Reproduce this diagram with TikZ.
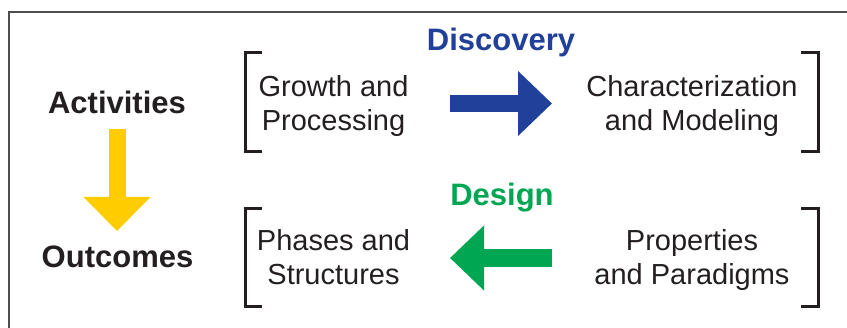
\documentclass[tikz,border=0pt]{standalone}
\usepackage{fontspec}
\setmainfont{Liberation Sans}
\usetikzlibrary{arrows.meta}
\definecolor{dblue}{RGB}{33,64,154}
\definecolor{dgreen}{RGB}{0,166,81}
\definecolor{dyellow}{RGB}{255,204,0}
\definecolor{ink}{RGB}{35,31,32}
\begin{document}
\begin{tikzpicture}[x=1pt,y=-1pt,
  lbl/.style={inner sep=0pt, anchor=base, text=ink, font=\fontsize{29}{33.5}\selectfont},
  head/.style={inner sep=0pt, anchor=base, font=\fontsize{31}{34}\selectfont\bfseries},
  brk/.style={draw=ink, line width=3pt, miter limit=10},
  fat/.style={line width=#1, -{Triangle[length=34pt,width=63pt]}},
  fat/.default=17pt]
\useasboundingbox (0,0) rectangle (847,328);
\draw[ink!80, line width=1.2pt] (9,340) -- (9,12) -- (860,12);
% headings
\node[head, text=ink] (act) at (117,114) {Activities};
\node[head, text=ink] (out) at (117.5,268) {Outcomes};
\node[head, text=dblue] (disc) at (501,51) {Discovery};
\node[head, text=dgreen] (des) at (502,206) {Design};
% boxes
\node[lbl] (gp) at (333.5,97) {\begin{tabular}[t]{@{}c@{}}Growth and\\Processing\end{tabular}};
\node[lbl] (cm) at (692,97) {\begin{tabular}[t]{@{}c@{}}Characterization\\and Modeling\end{tabular}};
\node[lbl] (ps) at (333.5,251) {\begin{tabular}[t]{@{}c@{}}Phases and\\Structures\end{tabular}};
\node[lbl] (pp) at (692,251) {\begin{tabular}[t]{@{}c@{}}Properties\\and Paradigms\end{tabular}};
% brackets
\draw[brk] (262,53) -- (245,53) -- (245,152) -- (262,152);
\draw[brk] (801,53) -- (818,53) -- (818,152) -- (801,152);
\draw[brk] (262,209) -- (245,209) -- (245,307) -- (262,307);
\draw[brk] (801,209) -- (818,209) -- (818,307) -- (801,307);
% arrows
\coordinate (b1) at (450,103.5);
\coordinate (b2) at (552,103.5);
\coordinate (g1) at (552,258);
\coordinate (g2) at (450,258);
\coordinate (y1) at (117,129);
\coordinate (y2) at (117,231);
\draw[fat, dblue] (b1) -- (b2);
\draw[fat=18pt, dgreen] (g1) -- (g2);
\draw[fat, dyellow, -{Triangle[length=34pt,width=65pt]}] (y1) -- (y2);
\end{tikzpicture}
\end{document}
